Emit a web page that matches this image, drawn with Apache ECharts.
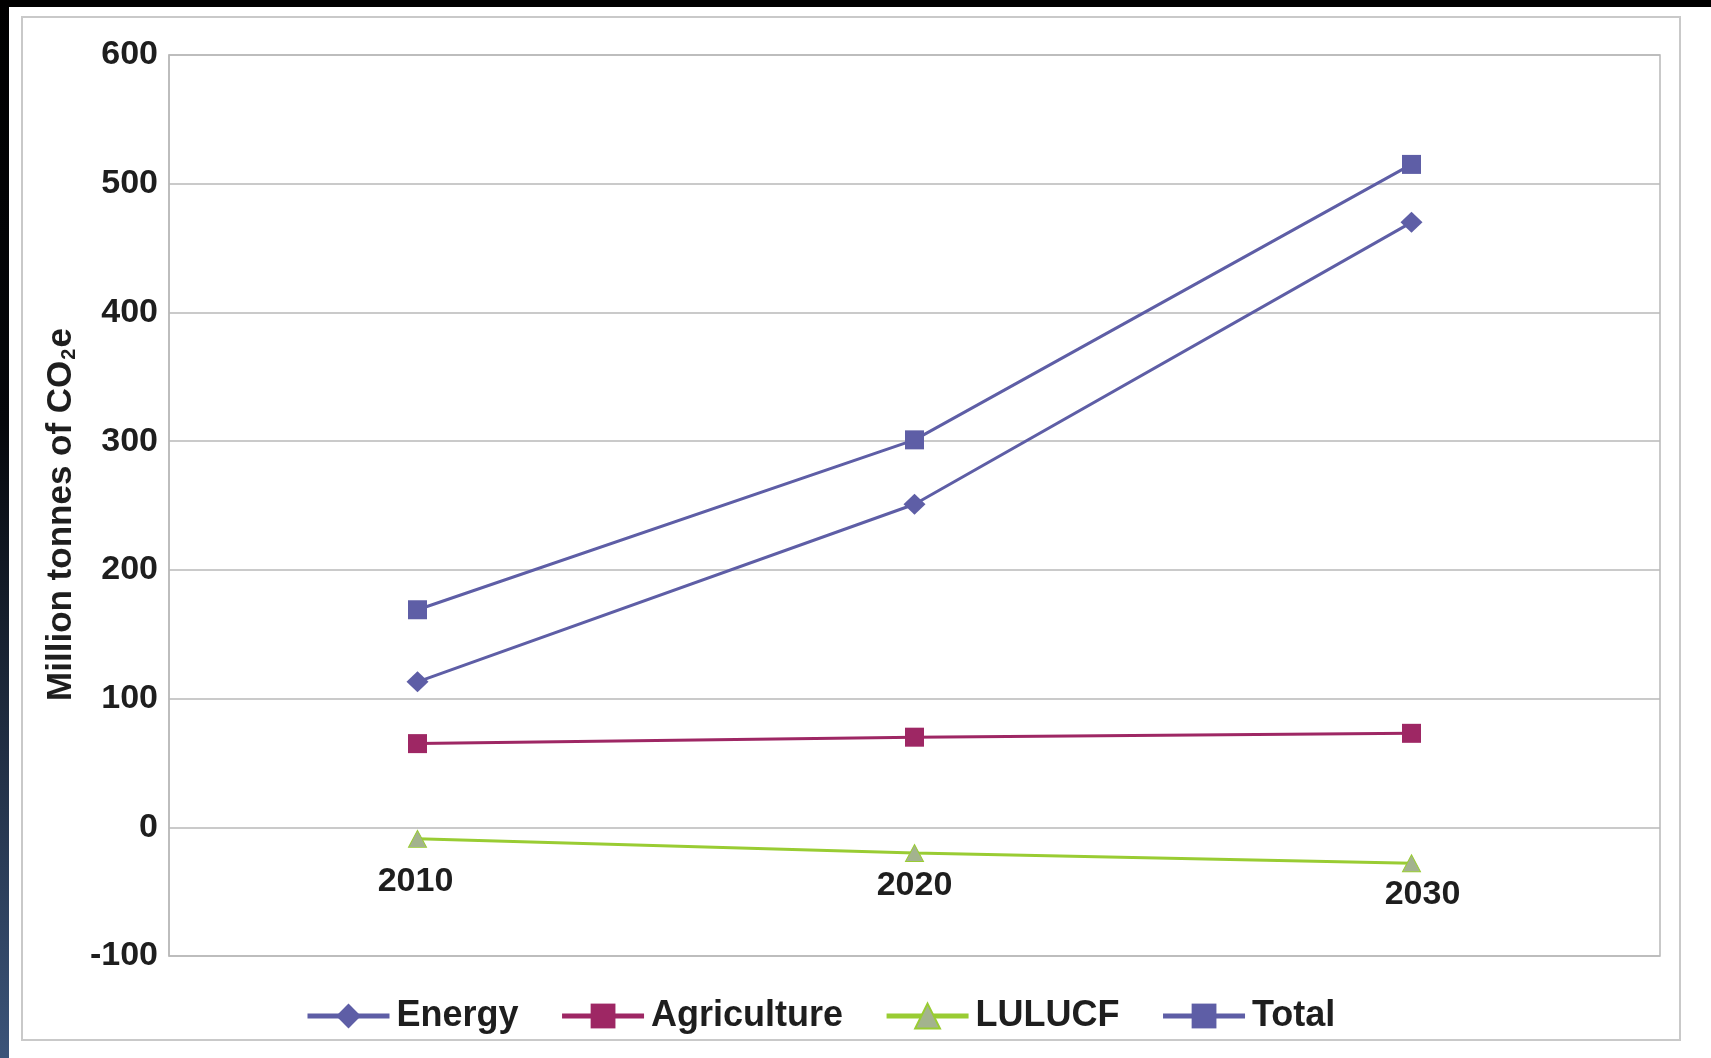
<!DOCTYPE html>
<html>
<head>
<meta charset="utf-8">
<script src="https://cdn.jsdelivr.net/npm/echarts@6/dist/echarts.min.js"></script>
<style>
html,body{margin:0;padding:0;background:#fff;}
#chart{width:1711px;height:1058px;}
</style>
</head>
<body>
<div id="chart"></div>
<script>
var categories = ['2010', '2020', '2030'];
var energy = [113, 251, 470];
var agriculture = [65, 70, 73];
var lulucf = [-9, -20, -28];
var total = [169, 301, 515];
var yTicks = { min: -100, max: 600, interval: 100 };

var FONT = 'Liberation Sans, Arial, sans-serif';
var TXT = '#1e1e1e';
var BLUE = '#5E5EA6';
var MAG = '#9E2764';
var GREEN = '#99CC33';

var GRID_TOP = 55, GRID_BOTTOM = 102, H = 1058;
// distance from bottom of plot to the zero line, from the y scale
var plotH = H - GRID_TOP - GRID_BOTTOM;
var zeroOffset = plotH * (0 - yTicks.min) / (yTicks.max - yTicks.min);

var chart = echarts.init(document.getElementById('chart'));
var labelShift = ['a', 'b', 'c'];
chart.setOption({
  backgroundColor: '#ffffff',
  animation: false,
  graphic: [
    { type: 'rect', left: 0, top: 0, shape: { width: 1711, height: 7 }, style: { fill: '#000' }, z: 0 },
    { type: 'rect', left: 0, top: 0, shape: { width: 9, height: 1058 },
      style: { fill: new echarts.graphic.LinearGradient(0, 0, 0, 1, [
        { offset: 0, color: '#000000' }, { offset: 0.4, color: '#05070b' }, { offset: 1, color: '#3b5479' }
      ]) }, z: 0 },
    { type: 'rect', shape: { x: 22, y: 17, width: 1658, height: 1023 },
      style: { fill: 'none', stroke: '#c9c9c9', lineWidth: 2 }, z: 0 }
  ],
  grid: {
    left: 169, right: 51, top: GRID_TOP, bottom: GRID_BOTTOM,
    show: true, borderColor: '#b8b8b8', borderWidth: 1.5, backgroundColor: 'transparent'
  },
  legend: {
    left: 300, top: 993,
    itemWidth: 82, itemHeight: 31, itemGap: 41,
    textStyle: { fontFamily: FONT, fontWeight: 'bold', fontSize: 36, color: TXT, padding: [0, 0, 0, 2] },
    lineStyle: { width: 5 },
    data: ['Energy', 'Agriculture', 'LULUCF', 'Total']
  },
  xAxis: {
    type: 'category',
    data: categories,
    boundaryGap: true,
    position: 'bottom',
    offset: -zeroOffset,
    axisLine: { show: false, onZero: false },
    axisTick: { show: false },
    splitLine: { show: false },
    axisLabel: {
      margin: 37,
      fontFamily: FONT, fontWeight: 'bold', fontSize: 34, color: TXT,
      formatter: function (v, i) { return '{' + labelShift[i] + '|' + v + '}'; },
      rich: {
        a: { fontFamily: FONT, fontWeight: 'bold', fontSize: 34, color: TXT, padding: [0, 4, 0, 0] },
        b: { fontFamily: FONT, fontWeight: 'bold', fontSize: 34, color: TXT, padding: [4, 0, 0, 0] },
        c: { fontFamily: FONT, fontWeight: 'bold', fontSize: 34, color: TXT, padding: [13, 0, 0, 22] }
      }
    }
  },
  yAxis: {
    type: 'value',
    min: yTicks.min, max: yTicks.max, interval: yTicks.interval,
    name: 'Million tonnes of CO{sub|2}e',
    nameLocation: 'middle',
    nameGap: 87,
    nameRotate: 90,
    nameTextStyle: {
      fontFamily: FONT, fontWeight: 'bold', fontSize: 35, color: TXT,
      padding: [0, 18, 0, 0],
      rich: { sub: { fontFamily: FONT, fontWeight: 'bold', fontSize: 20, color: TXT, verticalAlign: 'bottom', padding: [0, 1, 0, 1] } }
    },
    axisLine: { show: true, lineStyle: { color: '#b8b8b8', width: 1.5 } },
    axisTick: { show: false },
    splitLine: { show: true, lineStyle: { color: '#b8b8b8', width: 1.5 } },
    axisLabel: { margin: 11, fontFamily: FONT, fontWeight: 'bold', fontSize: 34, color: TXT }
  },
  series: [
    { name: 'Energy', type: 'line', data: energy, symbol: 'diamond', symbolSize: [22, 21],
      lineStyle: { color: BLUE, width: 3 }, itemStyle: { color: BLUE }, z: 4 },
    { name: 'Agriculture', type: 'line', data: agriculture, symbol: 'rect', symbolSize: 19,
      lineStyle: { color: MAG, width: 3 }, itemStyle: { color: MAG }, z: 3 },
    { name: 'LULUCF', type: 'line', data: lulucf, symbol: 'triangle', symbolSize: [18, 17],
      lineStyle: { color: GREEN, width: 3 }, itemStyle: { color: '#a3b38e', borderColor: GREEN, borderWidth: 1 }, z: 3 },
    { name: 'Total', type: 'line', data: total, symbol: 'rect', symbolSize: 19,
      lineStyle: { color: BLUE, width: 3 }, itemStyle: { color: BLUE }, z: 4 }
  ]
});
</script>
</body>
</html>
